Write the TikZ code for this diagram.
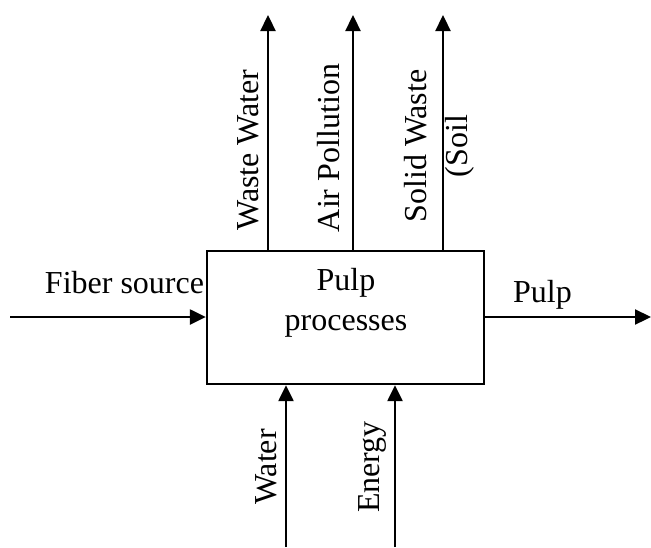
\documentclass[tikz,border=0pt]{standalone}
\usepackage{fontspec}
\setmainfont{Liberation Serif}
\usetikzlibrary{arrows.meta}
\begin{document}
\begin{tikzpicture}[x=1pt,y=-1pt,
  arr/.style={line width=2.3pt,-{Triangle[length=16pt,width=15pt]}},
  lbl/.style={font=\fontsize{32}{40.5}\selectfont,inner sep=0pt,align=center},
  vlbl/.style={lbl,rotate=90}]
\useasboundingbox (0,0) rectangle (651,547);
\node[draw,line width=2.3pt,minimum width=277pt,minimum height=133pt,inner sep=0pt] (box) at (345.5,317.5) {};
\node[lbl] (boxtxt) at (346,303) {Pulp\\processes};
% coordinates of free ends
\coordinate (ww) at (268,15);
\coordinate (ap) at (353,15);
\coordinate (sw) at (443,15);
\coordinate (wa) at (286,547);
\coordinate (en) at (395,547);
\coordinate (fs) at (10,317);
\coordinate (pu) at (651,317);
% arrows
\draw[arr] (box.north -| ww) -- (ww);
\draw[arr] (box.north -| ap) -- (ap);
\draw[arr] (box.north -| sw) -- (sw);
\draw[arr] (wa) -- (box.south -| wa);
\draw[arr] (en) -- (box.south -| en);
\draw[arr] (fs) -- (box.west |- fs);
\draw[arr] (box.east |- pu) -- (pu);
% labels
\node[lbl] (fslbl) at (124.5,282.5) {Fiber source};
\node[lbl] (pulbl) at (542.5,294.5) {Pulp};
\node[vlbl] (wwlbl) at (248.5,150) {Waste Water};
\node[vlbl] (aplbl) at (329,148) {Air Pollution};
\node[vlbl] (swlbl) at (439.5,146) {Solid Waste\\(Soil};
\node[vlbl] (walbl) at (266,467) {Water};
\node[vlbl] (enlbl) at (372.5,467) {Energy};
\end{tikzpicture}
\end{document}
